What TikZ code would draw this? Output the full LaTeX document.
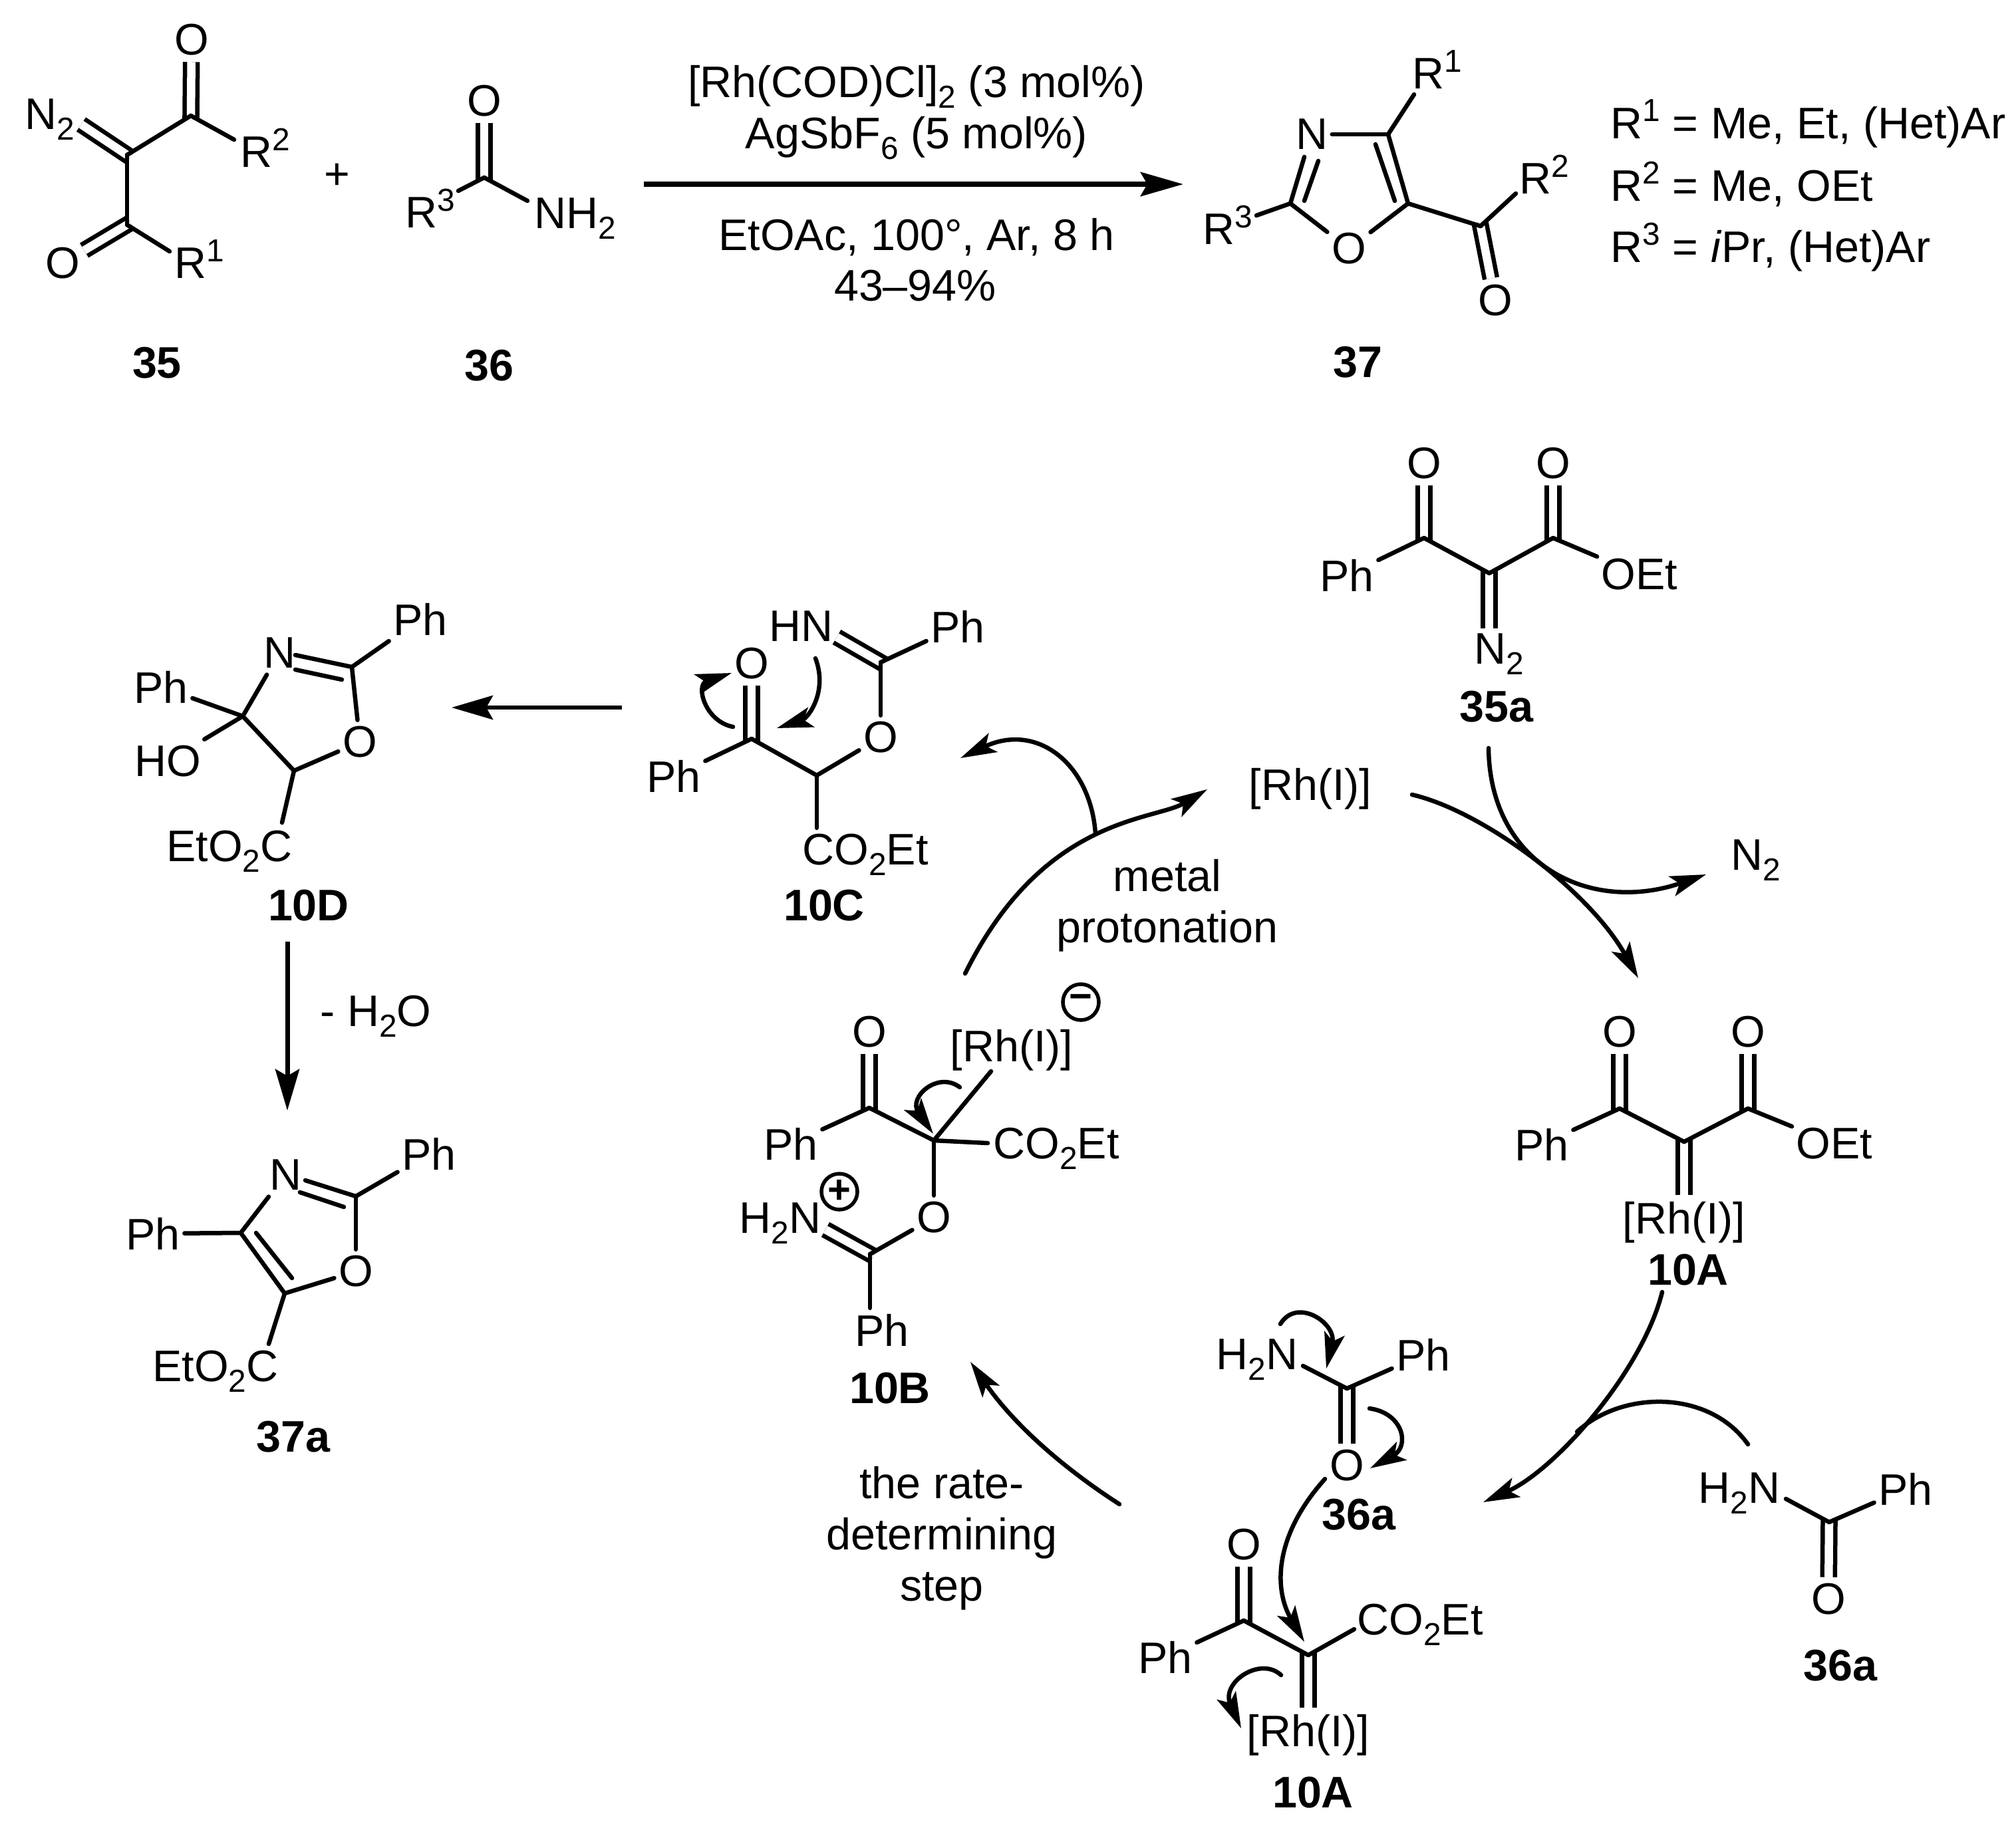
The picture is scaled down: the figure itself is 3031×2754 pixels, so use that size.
\documentclass[tikz,border=0pt]{standalone}
\usepackage{fontspec}
\setmainfont{Liberation Sans}
\usetikzlibrary{arrows.meta}

\newcommand{\dn}[1]{\raisebox{-.16cm}{\fontsize{13.6pt}{13.6pt}\selectfont #1}}
\newcommand{\up}[1]{\raisebox{.25cm}{\fontsize{13.6pt}{13.6pt}\selectfont #1}}

\tikzset{
	bond/.style={line width=.065cm, line cap=round, line join=round},
	dbl/.style={line width=.065cm, double, double distance=.125cm, shorten >=-.06cm},
	cmpd/.style={font=\fontsize{18.9pt}{18.9pt}\bfseries\selectfont},
	line/.style={anchor=base},
	charge/.style={circle, draw, line width=.055cm, minimum size=.54cm, inner sep=0pt, font=\fontsize{17pt}{17pt}\bfseries\selectfont},
	curly/.style={line width=.065cm, line cap=round, -{Stealth[length=.54cm, width=.31cm, inset=.12cm]}},
	plain/.style={line width=.06cm, -{Stealth[length=.62cm, width=.36cm, inset=.1cm]}}
}

\begin{document}
\begin{tikzpicture}[x=.01cm, y=-.01cm, every node/.style={inner xsep=.06cm, inner ysep=.09cm, font=\fontsize{18.9pt}{18.9pt}\selectfont}]
\useasboundingbox (0,0) rectangle (3031,2754);

% atoms and other short labels
\foreach \n/\x/\y/\s in {
	aO1/288/60/O%
	,aO2/94/396/O%
	,aN/75/180/{N\dn{2}}%
	,aR2/399/222/{R\up{2}}%
	,aR1/300/390/{R\up{1}}%
	,plus/507/265/+%
	,bO/728/152/O%
	,bR/647/313/{R\up{3}}%
	,bN/865/329/{NH\dn{2}}%
	,cN/1972/202/N%
	,cO1/2028/374/O%
	,cO2/2248/452/O%
	,cR1/2161/105/{R\up{1}}%
	,cR2/2322/262/{R\up{2}}%
	,cR3/1846/338/{R\up{3}}%
	,dPh1/632/931/Ph%
	,dN/420/982/N%
	,dPh2/242/1033/Ph%
	,dHO/252/1145/HO%
	,dO/541/1116/O%
	,dCO/345/1280/{EtO\dn{2}C}%
	,water/565/1528/{- H\dn{2}O}%
	,ePh1/645/1735/Ph%
	,eN/429/1767/N%
	,ePh2/230/1855/Ph%
	,eO/535/1912/O%
	,eCO/324/2062/{EtO\dn{2}C}%
	,fHN/1204/942/HN%
	,fPh1/1440/942/Ph%
	,fO1/1130/998/O%
	,fPh2/1013/1167/Ph%
	,fO2/1324/1109/O%
	,fCO/1301/1285/{CO\dn{2}Et}%
	,gO1/1307/1552/O%
	,gPh1/1189/1720/Ph%
	,gRh/1521/1579/{[Rh(I)]}%
	,gCO/1588/1727/{CO\dn{2}Et}%
	,gO2/1404/1831/O%
	,gPh2/1326/2000/Ph%
	,gN/1173/1840/{H\dn{2}N}%
	,hO1/2141/697/O%
	,hO2/2335/697/O%
	,hPh/2025/865/Ph%
	,hOEt/2465/864/OEt%
	,hN/2254/984/{N\dn{2}}%
	,rh/1970/1186/{[Rh(I)]}%
	,nitro/2640/1294/{N\dn{2}}%
	,iO1/2435/1552/O%
	,iO2/2628/1552/O%
	,iPh/2318/1721/Ph%
	,iOEt/2758/1720/OEt%
	,iRh/2532/1838/{[Rh(I)]}%
	,jN/1890/2045/{H\dn{2}N}%
	,jPh/2140/2037/Ph%
	,jO/2025/2204/O%
	,kO/1870/2323/O%
	,kPh/1752/2492/Ph%
	,kCO/2135/2443/{CO\dn{2}Et}%
	,kRh/1967/2609/{[Rh(I)]}%
	,lN/2615/2246/{H\dn{2}N}%
	,lPh/2865/2239/Ph%
	,lO/2749/2405/O%
}{
	\node(\n) at(\x,\y) {\s};
}

% compound numbers
\foreach \n/\x/\y/\s in {
	a35/236/546/35%
	,b36/735/550/36%
	,c37/2041/545/37%
	,d10/464/1362/10D%
	,e37/441/2161/37a%
	,f10/1239/1362/10C%
	,g10/1338/2088/10B%
	,h35/2250/1063/35a%
	,i10/2538/1910/10A%
	,j36/2043/2278/36a%
	,k10/1974/2696/10A%
	,l36/2767/2505/36a%
}{
	\node[cmpd](\n) at(\x,\y) {\s};
}

% text lines, by baseline
\foreach \n/\x/\y/\s in {
	rg1/1378/146/{[Rh(COD)Cl]\dn{2} (3 mol\%)}%
	,rg2/1378/223/{AgSbF\dn{6} (5 mol\%)}%
	,rg3/1378/376/{EtOAc, 100°, Ar, 8 h}%
	,rg4/1376/452/{43–94\%}%
	,mt1/1755/1340/metal%
	,mt2/1755/1417/protonation%
	,rd1/1416/2253/{the rate-}%
	,rd2/1416/2330/determining%
	,rd3/1416/2407/step%
}{
	\node[line](\n) at(\x,\y) {\s};
}

\foreach \n/\y/\s in {
	rr1/208/{R\up{1} = Me, Et, (Het)Ar}%
	,rr2/302/{R\up{2} = Me, OEt}%
	,rr3/394/{R\up{3} = \textit{i}Pr, (Het)Ar}%
}{
	\node[anchor=base west, inner xsep=0pt](\n) at(2421,\y) {\s};
}

\node[charge](pos) at(1262,1792) {+};
\node[charge](neg) at(1625,1507) {−};

% carbons and free bond ends
\foreach \n/\x/\y in {
	aC1/287/174,aC2/191/233,aC3/191/338,aNe/122/187,aR2e/352/210,aR1e/255/378
	,bC/728/267,bRe/689/287,bNe/793/302
	,cC4/2087/202,cC5/2117/306,cC2/1940/306,cC6/2226/340,cR1e/2126/142,cR2e/2279/291,cR3e/1889/324
	,cNe/1961/236,cIa/1982/242,cIb/1961/302,cIc/2068/217,cId/2097/302
	,dC2/529/1003,dC4/365/1077,dC5/442/1159,dNe/444/985,dIa/444/1007,dIb/514/1022,dCOe/424/1237
	,eC2/535/1799,eC4/362/1854,eC5/428/1945,eNe/459/1775,eIa/451/1793,eIb/517/1815
	,eIc/385/1854,eId/439/1922,eCOe/404/2021
	,fC1/1324/996,fNe/1258/958,fC2/1130/1111,fC3/1228/1166,fCOe/1228/1245
	,gC1/1307/1666,gC2/1404/1715,gC3/1308/1886,gRhe/1490/1611,gCOe/1485/1719,gNe/1241/1849,gPhe/1308/1967
	,hC1/2141/809,hC2/2239/862,hC3/2335/809,hNe/2239/945
	,iC1/2435/1667,iC2/2532/1717,iC3/2628/1667
	,jC/2025/2088,jNe/1959/2054
	,kC1/1870/2437,kC2/1967/2489,kCOe/2036/2450
	,lC/2750/2289,lNe/2685/2254
}{
	\coordinate(\n) at(\x,\y);
}

% double bonds go first, their white core must not cut the others
\foreach \u/\v in {
	aO1/aC1%
	,aNe/aC2%
	,aO2/aC3%
	,bO/bC%
	,cO2/cC6%
	,fNe/fC1%
	,fO1/fC2%
	,gO1/gC1%
	,gNe/gC3%
	,hO1/hC1%
	,hO2/hC3%
	,hNe/hC2%
	,iO1/iC1%
	,iO2/iC3%
	,iRh/iC2%
	,jO/jC%
	,kO/kC1%
	,kRh/kC2%
	,lO/lC%
}{
	\draw[dbl] (\u) -- (\v);
}

\foreach \u/\v in {
	aC1/aC2%
	,aC2/aC3%
	,aC1/aR2e%
	,aC3/aR1e%
	,bC/bRe%
	,bC/bNe%
	,cN/cC4%
	,cC4/cC5%
	,cC4/cR1e%
	,cC2/cNe%
	,cIa/cIb%
	,cIc/cId%
	,cC2/cO1%
	,cC5/cO1%
	,cC2/cR3e%
	,cC5/cC6%
	,cC6/cR2e%
	,dC2/dPh1%
	,dNe/dC2%
	,dIa/dIb%
	,dN/dC4%
	,dC4/dPh2%
	,dC4/dHO%
	,dC4/dC5%
	,dC5/dO%
	,dC2/dO%
	,dC5/dCOe%
	,eC2/ePh1%
	,eNe/eC2%
	,eIa/eIb%
	,eN/eC4%
	,eC4/ePh2%
	,eC4/eC5%
	,eIc/eId%
	,eC2/eO%
	,eC5/eO%
	,eC5/eCOe%
	,fC1/fPh1%
	,fC1/fO2%
	,fC2/fPh2%
	,fC2/fC3%
	,fC3/fO2%
	,fC3/fCOe%
	,gC1/gPh1%
	,gC1/gC2%
	,gC2/gRhe%
	,gC2/gCOe%
	,gC2/gO2%
	,gC3/gO2%
	,gC3/gPhe%
	,hC1/hPh%
	,hC1/hC2%
	,hC2/hC3%
	,hC3/hOEt%
	,iC1/iPh%
	,iC1/iC2%
	,iC2/iC3%
	,iC3/iOEt%
	,jC/jPh%
	,jC/jNe%
	,kC1/kPh%
	,kC1/kC2%
	,kC2/kCOe%
	,lC/lPh%
	,lC/lNe%
}{
	\draw[bond] (\u) -- (\v);
}

% ends of the reaction arrows
\foreach \n/\x/\y in {
	mn1/968/277,mn2/1779/277
	,st1/935/1064,st2/679/1064
	,st3/432/1416,st4/432/1670
	,cy1/1451/1464,cy2/1815/1187,cy3/1647/1254,cy4/1444/1140
	,cy5/2123/1195,cy6/2463/1471,cy7/2238/1125,cy8/2565/1315
	,cy9/2499/1943,cy10/2230/2259,cy11/2628/2172,cy12/2371/2153
	,cy13/1683/2262,cy14/1459/2048
	,ep1/1102/1093,ep2/1100/1012,ep3/1226/990,ep4/1168/1095
	,ep5/1443/1635,ep6/1403/1705,ep7/1925/1991,ep8/1994/2058
	,ep9/2059/2118,ep10/2060/2208,ep11/1992/2224,ep12/1961/2469
	,ep13/1926/2519,ep14/1866/2599
}{
	\coordinate(\n) at(\x,\y);
}

\draw[line width=.08cm, -{Stealth[length=.64cm, width=.36cm, inset=.1cm]}] (mn1) -- (mn2);
\draw[plain] (st1) -- (st2);
\draw[plain, line width=.07cm] (st3) -- (st4);

\draw[curly] (cy1) .. controls (1569,1226) and (1735,1235) .. (cy2);
\draw[curly] (cy3) .. controls (1640,1150) and (1560,1085) .. (cy4);
\draw[curly] (cy5) .. controls (2230,1220) and (2390,1340) .. (cy6);
\draw[curly] (cy7) .. controls (2240,1300) and (2390,1375) .. (cy8);
\draw[curly] (cy9) .. controls (2470,2060) and (2340,2210) .. (cy10);
\draw[bond] (cy11) .. controls (2570,2090) and (2440,2090) .. (cy12);
\draw[curly] (cy13) .. controls (1610,2215) and (1530,2150) .. (cy14);

\draw[curly] (ep1) .. controls (1060,1085) and (1045,1030) .. (ep2);
\draw[curly] (ep3) .. controls (1245,1040) and (1215,1080) .. (ep4);
\draw[curly] (ep5) .. controls (1410,1610) and (1365,1650) .. (ep6);
\draw[curly] (ep7) .. controls (1950,1950) and (2010,1990) .. (ep8);
\draw[curly] (ep9) .. controls (2110,2125) and (2120,2175) .. (ep10);
\draw[curly] (ep11) .. controls (1915,2310) and (1915,2390) .. (ep12);
\draw[curly] (ep13) .. controls (1895,2490) and (1835,2530) .. (ep14);

\end{tikzpicture}
\end{document}
